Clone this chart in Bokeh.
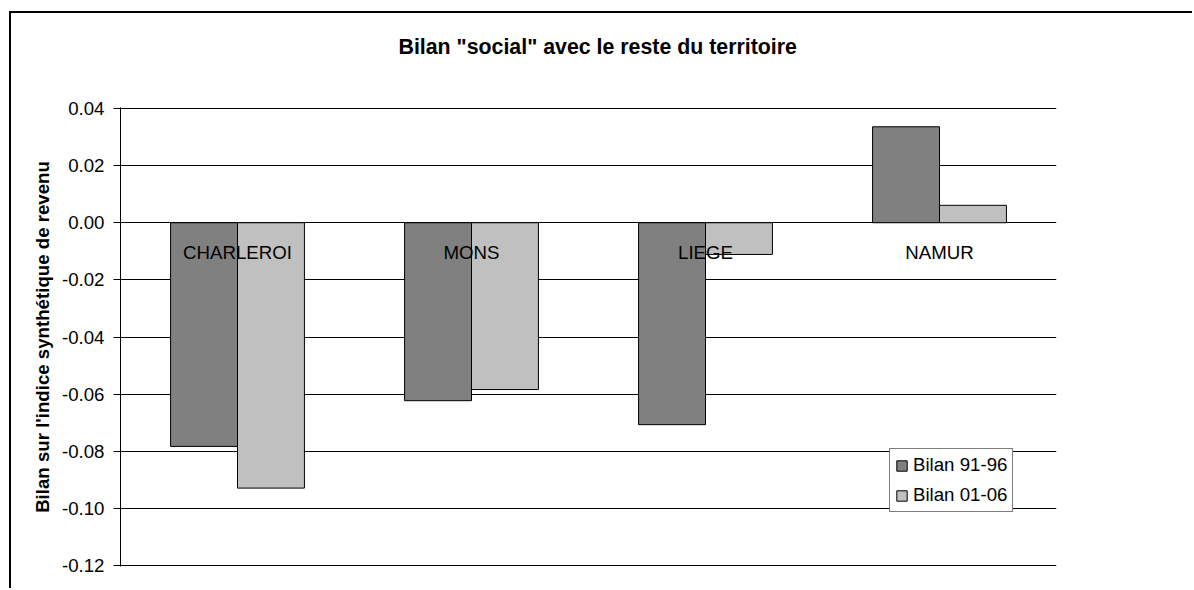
from bokeh.plotting import figure
from bokeh.models import (ColumnDataSource, FactorRange, FixedTicker, NumeralTickFormatter,
                          Range1d, Legend, LegendItem, Title)
from bokeh.transform import dodge
from bokeh.core.properties import value
from bokeh.embed import file_html
from bokeh.resources import INLINE

cities = ["CHARLEROI", "MONS", "LIEGE", "NAMUR"]
bilan_91_96 = [-0.0783, -0.0623, -0.0707, 0.0336]
bilan_01_06 = [-0.0929, -0.0584, -0.0111, 0.0061]
series_labels = ["Bilan 91-96", "Bilan 01-06"]
y_ticks = [-0.12, -0.10, -0.08, -0.06, -0.04, -0.02, 0.0, 0.02, 0.04]
chart_title = 'Bilan "social" avec le reste du territoire'

FONT = "Liberation Sans"

source = ColumnDataSource(dict(city=cities, s1=bilan_91_96, s2=bilan_01_06))

p = figure(width=1183, height=577, output_backend="svg", toolbar_location=None,
           x_range=FactorRange(factors=cities), y_range=Range1d(-0.12035, 0.04035),
           min_border_left=109, min_border_right=138, min_border_top=94, min_border_bottom=24)
p.title = None

p.styles = {"margin-left": "9px", "margin-top": "11px",
            "border-left": "2px solid black", "border-top": "2px solid black"}

p.background_fill_color = "white"
p.border_fill_color = "white"
p.outline_line_color = None

spacer = Title(text=" ", text_font_size="1px", standoff=27)
main_title = Title(text=chart_title, text_font=FONT, text_font_size="21.33px",
                   text_font_style="bold", text_color="black", align="left",
                   offset=278, standoff=38)
p.add_layout(spacer, "above")
p.add_layout(main_title, "above")

p.xaxis.visible = False
p.xgrid.visible = False

p.yaxis.ticker = FixedTicker(ticks=y_ticks)
p.yaxis.formatter = NumeralTickFormatter(format="0.00")
p.yaxis.axis_label = "Bilan sur l'indice synthétique de revenu"
p.yaxis.axis_label_text_font = FONT
p.yaxis.axis_label_text_font_size = "18.67px"
p.yaxis.axis_label_text_font_style = "bold"
p.yaxis.axis_label_standoff = 6
p.yaxis.major_label_text_font = FONT
p.yaxis.major_label_text_font_size = "18.67px"
p.yaxis.major_label_standoff = 9
p.yaxis.major_tick_out = 7
p.yaxis.major_tick_in = 0
p.yaxis.minor_tick_line_color = None
p.yaxis.axis_line_color = "black"
p.yaxis.major_tick_line_color = "black"
p.yaxis.major_label_text_color = "black"
p.yaxis.axis_label_text_color = "black"

p.ygrid.ticker = FixedTicker(ticks=y_ticks)
p.ygrid.grid_line_color = "black"
p.ygrid.grid_line_width = 1

r1 = p.vbar(x=dodge("city", -0.143, range=p.x_range), top="s1", bottom=0, width=0.286,
            source=source, fill_color="#808080", line_color="black", line_width=1)
r2 = p.vbar(x=dodge("city", 0.143, range=p.x_range), top="s2", bottom=0, width=0.286,
            source=source, fill_color="#C0C0C0", line_color="black", line_width=1)

p.text(x="city", y=-0.0103, text="city", source=source, text_font=value(FONT),
       text_font_size="18.67px", text_align="center", text_baseline="middle",
       text_color="black")

legend = Legend(items=[LegendItem(label=series_labels[0], renderers=[r1]),
                       LegendItem(label=series_labels[1], renderers=[r2])],
                location=(769, 54))
legend.label_text_font = FONT
legend.label_text_font_size = "18.67px"
legend.label_text_color = "black"
legend.border_line_color = "black"
legend.border_line_width = 1
legend.background_fill_color = "white"
legend.background_fill_alpha = 1
legend.padding = 5
legend.spacing = 8
legend.margin = 0
legend.glyph_width = 13
legend.glyph_height = 13
legend.label_height = 22
legend.label_standoff = 5
p.add_layout(legend)

open("out.html", "w").write(file_html(p, INLINE))
